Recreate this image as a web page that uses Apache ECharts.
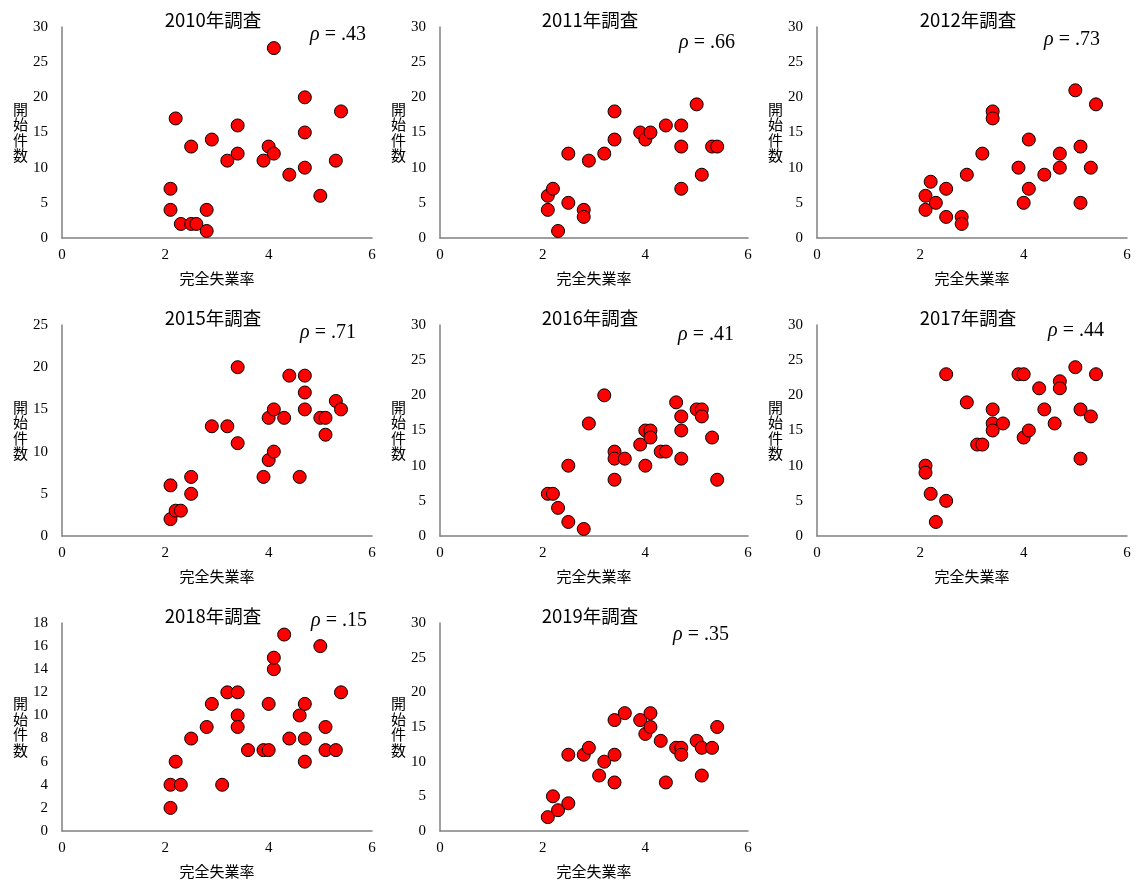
<!DOCTYPE html>
<html><head><meta charset="utf-8">
<script src="https://cdn.jsdelivr.net/npm/echarts@6/dist/echarts.min.js"></script>
<style>html,body{margin:0;padding:0;background:#fff}#c{width:1136px;height:880px}</style>
</head><body><div id="c"></div>
<script>
// ---- data ----
const years = ['2010', '2011', '2012', '2015', '2016', '2017', '2018', '2019'];
const rhoLabels = ['.43', '.66', '.73', '.71', '.41', '.44', '.15', '.35'];
const yMaxes = [30, 30, 30, 25, 30, 30, 18, 30];
const yIntervals = [5, 5, 5, 5, 5, 5, 2, 5];

const unemp2010 = [2.1, 2.1, 2.2, 2.3, 2.5, 2.5, 2.6, 2.8, 2.8, 2.9, 3.2, 3.4, 3.4, 3.9, 4.0, 4.1, 4.1, 4.4, 4.7, 4.7, 4.7, 5.0, 5.3, 5.4];
const starts2010 = [7, 4, 17, 2, 13, 2, 2, 4, 1, 14, 11, 16, 12, 11, 13, 27, 12, 9, 20, 15, 10, 6, 11, 18];

const unemp2011 = [2.1, 2.1, 2.2, 2.3, 2.5, 2.5, 2.8, 2.8, 2.9, 3.2, 3.4, 3.4, 3.9, 4.0, 4.1, 4.4, 4.7, 4.7, 4.7, 5.0, 5.1, 5.3, 5.4];
const starts2011 = [6, 4, 7, 1, 12, 5, 4, 3, 11, 12, 18, 14, 15, 14, 15, 16, 16, 13, 7, 19, 9, 13, 13];

const unemp2012 = [2.1, 2.1, 2.2, 2.3, 2.5, 2.5, 2.8, 2.8, 2.9, 3.2, 3.4, 3.4, 3.9, 4.0, 4.1, 4.1, 4.4, 4.7, 4.7, 5.0, 5.1, 5.1, 5.3, 5.4];
const starts2012 = [6, 4, 8, 5, 7, 3, 3, 2, 9, 12, 18, 17, 10, 5, 14, 7, 9, 12, 10, 21, 13, 5, 10, 19];

const unemp2015 = [2.1, 2.1, 2.2, 2.3, 2.5, 2.5, 2.9, 3.2, 3.4, 3.4, 3.9, 4.0, 4.0, 4.1, 4.1, 4.3, 4.4, 4.6, 4.7, 4.7, 4.7, 5.0, 5.1, 5.1, 5.3, 5.4];
const starts2015 = [2, 6, 3, 3, 7, 5, 13, 13, 20, 11, 7, 9, 14, 15, 10, 14, 19, 7, 19, 17, 15, 14, 14, 12, 16, 15];

const unemp2016 = [2.1, 2.2, 2.3, 2.5, 2.5, 2.8, 2.9, 3.2, 3.4, 3.4, 3.4, 3.6, 3.9, 4.0, 4.0, 4.1, 4.1, 4.3, 4.4, 4.6, 4.7, 4.7, 4.7, 5.0, 5.1, 5.1, 5.3, 5.4];
const starts2016 = [6, 6, 4, 10, 2, 1, 16, 20, 12, 11, 8, 11, 13, 15, 10, 15, 14, 12, 12, 19, 17, 15, 11, 18, 18, 17, 14, 8];

const unemp2017 = [2.1, 2.1, 2.2, 2.3, 2.5, 2.5, 2.9, 3.1, 3.2, 3.4, 3.4, 3.4, 3.6, 3.9, 4.0, 4.0, 4.1, 4.3, 4.4, 4.6, 4.7, 4.7, 5.0, 5.1, 5.1, 5.3, 5.4];
const starts2017 = [10, 9, 6, 2, 23, 5, 19, 13, 13, 18, 16, 15, 16, 23, 23, 14, 15, 21, 18, 16, 22, 21, 24, 18, 11, 17, 23];

const unemp2018 = [2.1, 2.1, 2.2, 2.3, 2.5, 2.8, 2.9, 3.1, 3.2, 3.4, 3.4, 3.4, 3.6, 3.9, 4.0, 4.0, 4.1, 4.1, 4.3, 4.4, 4.6, 4.7, 4.7, 4.7, 5.0, 5.1, 5.1, 5.3, 5.4];
const starts2018 = [2, 4, 6, 4, 8, 9, 11, 4, 12, 12, 10, 9, 7, 7, 7, 11, 14, 15, 17, 8, 10, 11, 8, 6, 16, 9, 7, 7, 12];

const unemp2019 = [2.1, 2.2, 2.3, 2.5, 2.5, 2.8, 2.9, 3.1, 3.2, 3.4, 3.4, 3.4, 3.6, 3.9, 4.0, 4.1, 4.1, 4.3, 4.4, 4.6, 4.7, 4.7, 5.0, 5.1, 5.1, 5.3, 5.4];
const starts2019 = [2, 5, 3, 4, 11, 11, 12, 8, 10, 16, 11, 7, 17, 16, 14, 17, 15, 13, 7, 12, 12, 11, 13, 12, 8, 12, 15];

const xsList = [unemp2010, unemp2011, unemp2012, unemp2015, unemp2016, unemp2017, unemp2018, unemp2019];
const ysList = [starts2010, starts2011, starts2012, starts2015, starts2016, starts2017, starts2018, starts2019];

const titleSuffix = '年調査';
const xName = '完全失業率';
const yName = '開始件数';

// ---- layout ----
const colLeft = [62, 440, 817];
const colWidth = [310, 308, 310];
const rowTop = [27, 325, 623];
const gridH = 211;
const rhoRight = [366, 735, 1100, 356, 734, 1104, 367, 729];
const rhoY = [35, 43, 40, 333, 335, 331, 621, 635];

const axisLineColor = '#808080';
const serif = '"Liberation Serif", "Times New Roman", serif';
const sans = '"Noto Sans CJK JP", "Noto Sans", sans-serif';

const grids = [], xAxes = [], yAxes = [], series = [], graphics = [];
years.forEach((yr, i) => {
  const r = Math.floor(i / 3), c = i % 3;
  grids.push({left: colLeft[c], top: rowTop[r], width: colWidth[c], height: gridH, containLabel: false});
  xAxes.push({
    gridIndex: i, type: 'value', min: 0, max: 6, interval: 2,
    name: xName, nameLocation: 'middle', nameGap: 33,
    nameTextStyle: {fontFamily: sans, fontSize: 15, color: '#000'},
    axisLine: {show: true, lineStyle: {color: axisLineColor, width: 1.5}},
    axisTick: {show: false}, splitLine: {show: false},
    axisLabel: {fontFamily: serif, fontSize: 15, color: '#000', margin: 10}
  });
  yAxes.push({
    gridIndex: i, type: 'value', min: 0, max: yMaxes[i], interval: yIntervals[i],
    name: yName.split('').join('\n'), nameLocation: 'middle', nameRotate: 0, nameGap: 34,
    nameTextStyle: {fontFamily: sans, fontSize: 15, color: '#000', lineHeight: 15.5, padding: [12, 0, 0, 0]},
    axisLine: {show: true, onZero: false, lineStyle: {color: axisLineColor, width: 1.5}},
    axisTick: {show: false}, splitLine: {show: false},
    axisLabel: {fontFamily: serif, fontSize: 15, color: '#000', margin: 14}
  });
  series.push({
    type: 'scatter', xAxisIndex: i, yAxisIndex: i,
    data: xsList[i].map((x, k) => [x, ysList[i][k]]),
    symbol: 'circle', symbolSize: 13,
    itemStyle: {color: '#FF0000', borderColor: '#000', borderWidth: 1, opacity: 1},
    emphasis: {disabled: true}, z: 3
  });
  graphics.push({
    type: 'text', x: colLeft[c] + colWidth[c] / 2 - 4, y: rowTop[r] - 7,
    style: {text: yr + titleSuffix, font: '18.5px ' + sans, fill: '#000', textAlign: 'center', textVerticalAlign: 'middle'}
  });
  graphics.push({
    type: 'text', x: rhoRight[i], y: rhoY[i],
    style: {
      text: '{i|ρ} = ' + rhoLabels[i],
      font: '20px ' + serif, fill: '#000', textAlign: 'right', textVerticalAlign: 'middle',
      rich: {i: {fontStyle: 'italic', fontFamily: serif, fontSize: 20, fill: '#000'}}
    }
  });
});

const chart = echarts.init(document.getElementById('c'), null, {renderer: 'canvas'});
chart.setOption({
  animation: false,
  backgroundColor: '#fff',
  grid: grids, xAxis: xAxes, yAxis: yAxes, series: series,
  graphic: graphics
});
</script></body></html>
